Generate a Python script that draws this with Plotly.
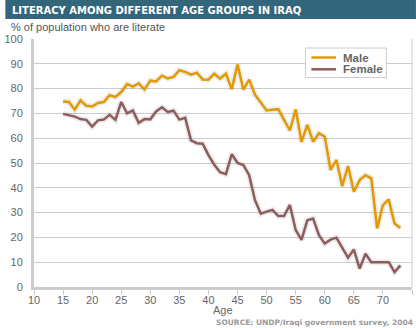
import plotly.graph_objects as go

ages = list(range(15, 74))
male = [74.8, 74.6, 71.5, 75.2, 73.1, 72.8, 74.2, 74.6, 77.3, 76.6,
        78.6, 81.8, 80.8, 82.1, 79.6, 83.2, 82.9, 85.2, 84.1, 84.7,
        87.4, 86.7, 85.6, 86.4, 83.7, 83.6, 86.0, 84.0, 86.0, 79.8,
        89.7, 79.6, 83.6, 77.5, 74.4, 71.2, 71.5, 71.7, 67.4, 63.1,
        71.6, 58.5, 65.4, 58.6, 62.0, 60.6, 47.2, 51.2, 40.7, 48.8,
        38.4, 43.1, 45.1, 43.8, 23.6, 33.0, 35.3, 25.6, 23.8]
female = [69.8, 69.4, 68.7, 67.7, 67.4, 64.7, 67.2, 67.5, 69.4, 67.4,
          74.6, 70.0, 71.2, 66.2, 67.7, 67.6, 70.8, 72.5, 70.6, 71.1,
          67.5, 68.2, 59.1, 58.0, 57.8, 53.2, 49.3, 46.3, 45.5, 53.5,
          50.0, 49.2, 45.1, 35.0, 29.6, 30.4, 31.1, 28.6, 28.6, 33.1,
          23.0, 19.0, 26.9, 27.6, 20.9, 17.5, 19.1, 19.9, 16.1, 11.8,
          15.1, 7.4, 13.4, 10.0, 10.0, 10.0, 10.0, 6.0, 8.7]
series_names = ["Male", "Female"]
series_colors = ["#e29a00", "#8e5c5c"]
y_ticks = list(range(0, 101, 10))
x_ticks = list(range(10, 76, 5))

W, H = 416, 328
L, R, T, B = 29, 4, 39, 41
PW, PH = W - L - R, H - T - B


def px(x):
    return (x - L) / PW


def py(y):
    return (H - B - y) / PH


fig = go.Figure()
for vals in (male, female):
    fig.add_trace(go.Scatter(x=ages, y=vals, mode="lines",
                             line=dict(color="rgba(0,0,0,0.07)", width=6),
                             hoverinfo="skip", showlegend=False))
for name, vals, col in zip(series_names, (male, female), series_colors):
    fig.add_trace(go.Scatter(x=ages, y=vals, mode="lines", name=name,
                             line=dict(color=col, width=2.5), showlegend=False))

fig.update_layout(
    width=W, height=H,
    margin=dict(l=L, r=R, t=T, b=B, pad=0),
    paper_bgcolor="white", plot_bgcolor="white",
    showlegend=False,
    font=dict(family="Liberation Sans, Arial, sans-serif", size=11, color="#666"),
    xaxis=dict(range=[10, 75], tickvals=x_ticks, showgrid=False,
               showline=True, linecolor="#cccccc", linewidth=3,
               ticks="outside", ticklen=5, tickwidth=1, tickcolor="#cccccc",
               ticklabelstandoff=-4,
               tickfont=dict(size=11, color="#666"), zeroline=False),
    yaxis=dict(range=[0, 100], tickvals=y_ticks, showgrid=True,
               gridcolor="#cccccc", gridwidth=1,
               showline=True, linecolor="#cccccc", linewidth=3,
               ticks="", ticklabelstandoff=6,
               tickfont=dict(size=11, color="#666"), zeroline=False),
)

shapes = [
    # title bar
    dict(type="rect", xref="paper", yref="paper", x0=px(0), x1=px(W),
         y0=py(19), y1=py(0), fillcolor="#33667a", line=dict(width=0), layer="above"),
    # right border
    dict(type="line", xref="paper", yref="paper", x0=1, x1=1, y0=0, y1=1,
         line=dict(color="#cccccc", width=1)),
    # legend box
    dict(type="rect", xref="paper", yref="paper", x0=px(304), x1=px(386),
         y0=py(77.5), y1=py(48), fillcolor="white",
         line=dict(color="#cccccc", width=1), layer="above"),
]
annotations = [
    dict(text="LITERACY AMONG DIFFERENT AGE GROUPS IN IRAQ", xref="paper", yref="paper",
         x=px(5), y=py(10), xanchor="left", yanchor="middle", showarrow=False,
         font=dict(family="DejaVu Sans", size=10, color="white", weight="bold")),
    dict(text="% of population who are literate", xref="paper", yref="paper",
         x=px(4), y=py(27), xanchor="left", yanchor="middle", showarrow=False,
         font=dict(family="Liberation Sans", size=11, color="#555")),
    dict(text="Age", xref="paper", yref="paper", x=0.5, y=py(310),
         xanchor="center", yanchor="middle", showarrow=False,
         font=dict(family="Liberation Sans", size=11, color="#666")),
    dict(text="SOURCE: UNDP/Iraqi government survey, 2004", xref="paper", yref="paper",
         x=px(415), y=py(322), xanchor="right", yanchor="middle", showarrow=False,
         font=dict(family="DejaVu Sans", size=7.5, color="#999", weight="bold")),
]
leg_y = [57.5, 69.3]
for name, col, yy in zip(series_names, series_colors, leg_y):
    shapes.append(dict(type="line", xref="paper", yref="paper", x0=px(310), x1=px(335),
                       y0=py(yy), y1=py(yy), line=dict(color=col, width=2.5), layer="above"))
    annotations.append(dict(text=name, xref="paper", yref="paper", x=px(340), y=py(yy),
                            xanchor="left", yanchor="middle", showarrow=False,
                            font=dict(family="Liberation Sans", size=11.5, color="#666",
                                      weight="bold")))
fig.update_layout(shapes=shapes, annotations=annotations)
fig.write_html("out.html")
